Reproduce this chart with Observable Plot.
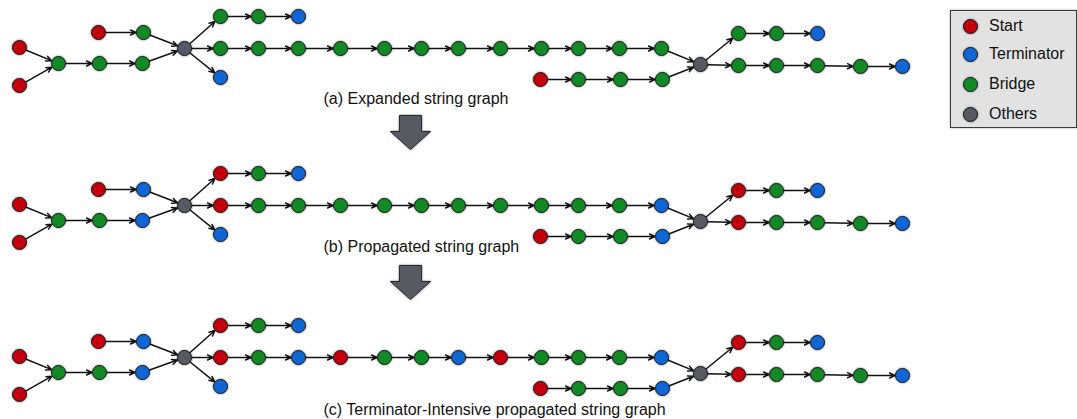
<!DOCTYPE html>
<html>
<head>
<meta charset="utf-8">
<script src="https://cdn.jsdelivr.net/npm/d3@7"></script>
<script src="https://cdn.jsdelivr.net/npm/@observablehq/plot@0.6"></script>
<style>
  html, body { margin: 0; padding: 0; background: #fff; }
  #wrap { position: relative; width: 1077px; height: 419px; overflow: hidden; }
  #chart svg g[aria-label="dot"] circle,
  #chart svg g[aria-label="dot"] path { filter: drop-shadow(0 0 1.2px rgba(0,0,0,0.55)); }
  #legend { position: absolute; left: 950px; top: 10px; width: 125px; height: 116px;
    background: #e2e2e2; border: 1px solid #3a3a3a; box-shadow: 0 0 2px rgba(0,0,0,0.35);
    font-family: "Liberation Sans", Arial, sans-serif; font-size: 16px; color: #111; }
  .item { position: absolute; left: 0; height: 20px; display: flex; align-items: center; }
  .sw { width: 13px; height: 13px; border-radius: 50%; border: 1px solid #1a1a1a; margin-left: 12px; margin-right: 11px;
    box-shadow: 0 0 2px rgba(0,0,0,0.5); }
</style>
</head>
<body>
<div id="wrap">
  <div id="chart"></div>
  <div id="legend"></div>
</div>
<script>
// ---- categories / legend ----
const categories = ["Start", "Terminator", "Bridge", "Others"];
const categoryCodes = ["S", "T", "B", "O"];
const categoryColors = ["#c4000c", "#0f66d4", "#118a26", "#555a63"];

// ---- nodes (layout position within a panel) ----
const nodeIds = ["s1","s2","h","h2","h3","t1","t2","g1","u1","u2","u3",
  "m1","m2","m3","m4","m5","m6","m7","m8","m9","m10","m11","m12","d1",
  "l1","l2","l3","l4","g2","r1","r2","r3","q1","q2","q3","q4","q5"];
const nodeX = [19,19,58,99,142,98,143,184,220,258,298,
  220,258,298,340,384,421,458,500,541,578,619,661,220,
  540,578,620,662,700,738,776,817,738,776,817,860,902];
const nodeY = [47,85,63,63,63,32,32,48,16,16,16,
  48,48,48,48,48,48,48,48,48,48,48,48,77,
  79,79,79,79,64,33,33,33,65,65,65,66,66];

// ---- node types for each panel ----
const typesA = ["S","S","B","B","B","S","B","O","B","B","T",
  "B","B","B","B","B","B","B","B","B","B","B","B","T",
  "S","B","B","B","O","B","B","T","B","B","B","B","T"];
const typesB = ["S","S","B","B","T","S","T","O","S","B","T",
  "S","B","B","B","B","B","B","B","B","B","B","T","T",
  "S","B","B","T","O","S","B","T","S","B","B","B","T"];
const typesC = ["S","S","B","B","T","S","T","O","S","B","T",
  "S","B","T","S","B","B","T","S","B","B","B","T","T",
  "S","B","B","T","O","S","B","T","S","B","B","B","T"];

// ---- edges ----
const edgeFrom = ["s1","s2","h","h2","h3","t1","t2","g1","u1","u2","g1",
  "m1","m2","m3","m4","m5","m6","m7","m8","m9","m10","m11","g1","m12",
  "l1","l2","l3","l4","g2","r1","r2","g2","q1","q2","q3","q4"];
const edgeTo = ["h","h","h2","h3","g1","t2","g1","u1","u2","u3","m1",
  "m2","m3","m4","m5","m6","m7","m8","m9","m10","m11","m12","d1","g2",
  "l2","l3","l4","g2","r1","r2","r3","q1","q2","q3","q4","q5"];

// ---- panels ----
const panelOffsets = [0, 157, 309];
const panelTypes = [typesA, typesB, typesC];
const panelTitles = ["(a) Expanded string graph", "(b) Propagated string graph",
  "(c) Terminator-Intensive propagated string graph"];
const titleX = [323, 323, 323];
const titleY = [98, 246, 409];

// ---- big transition arrows ----
const stepArrowX = [410, 410];
const stepArrowY = [132, 282];

// build tables
const idx = new Map(nodeIds.map((id, i) => [id, i]));
const nodes = [];
const edges = [];
panelOffsets.forEach((off, p) => {
  nodeIds.forEach((id, i) => nodes.push({x: nodeX[i], y: nodeY[i] + off,
    type: categories[categoryCodes.indexOf(panelTypes[p][i])]}));
  edgeFrom.forEach((f, k) => {
    const a = idx.get(f), b = idx.get(edgeTo[k]);
    edges.push({x1: nodeX[a], y1: nodeY[a] + off, x2: nodeX[b], y2: nodeY[b] + off});
  });
});
const titles = panelTitles.map((t, i) => ({t, x: titleX[i], y: titleY[i]}));
const steps = stepArrowX.map((x, i) => ({x, y: stepArrowY[i]}));

const downArrow = {
  draw(ctx, size) {
    const r = Math.sqrt(size / Math.PI);
    const sw = 0.55 * r, top = -0.85 * r, neck = -0.05 * r, tip = 0.85 * r;
    ctx.moveTo(-sw, top); ctx.lineTo(sw, top); ctx.lineTo(sw, neck);
    ctx.lineTo(r, neck); ctx.lineTo(0, tip); ctx.lineTo(-r, neck);
    ctx.lineTo(-sw, neck); ctx.closePath();
  }
};

const chart = Plot.plot({
  width: 1077, height: 419,
  marginTop: 0, marginRight: 0, marginBottom: 0, marginLeft: 0,
  x: {domain: [0, 1077], range: [0, 1077], axis: null},
  y: {domain: [0, 419], range: [0, 419], axis: null},
  color: {domain: categories, range: categoryColors},
  style: {fontFamily: "'Liberation Sans', Arial, sans-serif", fontSize: "16px", background: "#fff", overflow: "visible"},
  marks: [
    Plot.arrow(edges, {x1: "x1", y1: "y1", x2: "x2", y2: "y2", stroke: "#111",
      strokeWidth: 1.5, insetStart: 6, insetEnd: 7.5, headLength: 6, headAngle: 50}),
    Plot.dot(nodes, {x: "x", y: "y", r: 7, fill: "type", stroke: "#1a1a1a", strokeWidth: 1}),
    Plot.dot(steps, {x: "x", y: "y", r: 20, symbol: downArrow, fill: "#565a63", stroke: "#2a2a2a", strokeWidth: 1}),
    Plot.text(titles, {x: "x", y: "y", text: "t", textAnchor: "start", fill: "#111", fontSize: 16})
  ]
});
document.getElementById("chart").appendChild(chart);

// legend
const legend = document.getElementById("legend");
const legendY = [15, 43, 73, 103];
categories.forEach((c, i) => {
  const row = document.createElement("div");
  row.className = "item";
  row.style.top = (legendY[i] - 10) + "px";
  const sw = document.createElement("div");
  sw.className = "sw";
  sw.style.background = categoryColors[i];
  const label = document.createElement("span");
  label.textContent = c;
  row.appendChild(sw); row.appendChild(label);
  legend.appendChild(row);
});
</script>
</body>
</html>
